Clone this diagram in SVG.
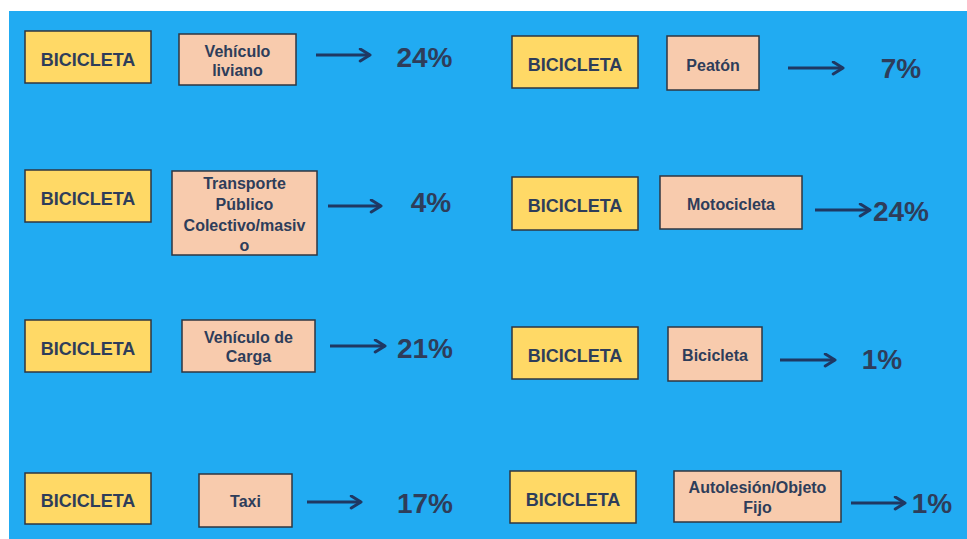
<svg xmlns="http://www.w3.org/2000/svg" width="967" height="539" viewBox="0 0 967 539">
<style>
.bg{fill:#21abf2}
.y{fill:#ffd966;stroke:#2f3640;stroke-width:1.5}
.p{fill:#f8cbad;stroke:#2f3640;stroke-width:1.5}
.t{font-family:"Liberation Sans",Arial,sans-serif;font-weight:bold;fill:#2e3d5a;text-anchor:middle}
.b{font-size:18px}
.s{font-size:16px}
.pc{font-size:28px}
.a{stroke:#1f3863;stroke-width:3;fill:none;marker-end:url(#ah)}
</style>
<defs>
<marker id="ah" viewBox="0 0 10 10" refX="8" refY="5" markerWidth="5" markerHeight="5" orient="auto" markerUnits="strokeWidth">
<path d="M1.5,1 L8,5 L1.5,9" fill="none" stroke="#1f3863" stroke-width="2" stroke-linecap="round" stroke-linejoin="round"/>
</marker>
</defs>
<rect x="0" y="0" width="967" height="539" fill="#ffffff"/>
<rect class="bg" x="9" y="11" width="958" height="528"/>

<g id="r1l-bici"><rect class="y" x="25" y="31" width="126" height="52"/><text class="t b" x="88" y="66">BICICLETA</text></g>
<g id="r1l-veh"><rect class="p" x="179" y="34" width="117" height="51"/><text class="t s" x="237.5" y="57">Vehículo</text><text class="t s" x="237.5" y="76">liviano</text></g>
<g id="r1l-pct"><text class="t pc" x="424.5" y="67">24%</text></g>

<g id="r1r-bici"><rect class="y" x="512" y="36" width="126" height="52"/><text class="t b" x="575" y="71">BICICLETA</text></g>
<g id="r1r-pea"><rect class="p" x="667" y="36" width="92" height="54"/><text class="t s" x="713" y="71">Peatón</text></g>
<g id="r1r-pct"><text class="t pc" x="901" y="78">7%</text></g>

<g id="r2l-bici"><rect class="y" x="25" y="170" width="126" height="52"/><text class="t b" x="88" y="205">BICICLETA</text></g>
<g id="r2l-tp"><rect class="p" x="172" y="171" width="145" height="84"/><text class="t s" x="244.5" y="189">Transporte</text><text class="t s" x="244.5" y="210">Público</text><text class="t s" x="244.5" y="231">Colectivo/masiv</text><text class="t s" x="244.5" y="251">o</text></g>
<g id="r2l-pct"><text class="t pc" x="431" y="212">4%</text></g>

<g id="r2r-bici"><rect class="y" x="512" y="177" width="126" height="53"/><text class="t b" x="575" y="212">BICICLETA</text></g>
<g id="r2r-moto"><rect class="p" x="660" y="176" width="142" height="53"/><text class="t s" x="731" y="210">Motocicleta</text></g>
<g id="r2r-pct"><text class="t pc" x="901" y="221">24%</text></g>

<g id="r3l-bici"><rect class="y" x="25" y="320" width="126" height="52"/><text class="t b" x="88" y="355">BICICLETA</text></g>
<g id="r3l-carga"><rect class="p" x="182" y="320" width="133" height="52"/><text class="t s" x="248.5" y="343">Vehículo de</text><text class="t s" x="248.5" y="362">Carga</text></g>
<g id="r3l-pct"><text class="t pc" x="425" y="358">21%</text></g>

<g id="r3r-bici"><rect class="y" x="512" y="327" width="126" height="52"/><text class="t b" x="575" y="362">BICICLETA</text></g>
<g id="r3r-bic"><rect class="p" x="668" y="327" width="94" height="54"/><text class="t s" x="715" y="361">Bicicleta</text></g>
<g id="r3r-pct"><text class="t pc" x="882" y="369">1%</text></g>

<g id="r4l-bici"><rect class="y" x="25" y="473" width="126" height="51"/><text class="t b" x="88" y="507">BICICLETA</text></g>
<g id="r4l-taxi"><rect class="p" x="199" y="474" width="93" height="53"/><text class="t s" x="245.5" y="507">Taxi</text></g>
<g id="r4l-pct"><text class="t pc" x="425" y="513">17%</text></g>

<g id="r4r-bici"><rect class="y" x="510" y="471" width="126" height="52"/><text class="t b" x="573" y="506">BICICLETA</text></g>
<g id="r4r-auto"><rect class="p" x="674" y="471" width="167" height="51"/><text class="t s" x="757.5" y="493">Autolesión/Objeto</text><text class="t s" x="757.5" y="513">Fijo</text></g>
<g id="r4r-pct"><text class="t pc" x="932" y="513">1%</text></g>

<g id="connectors">
<path class="a" d="M316,55 H370"/>
<path class="a" d="M788,68 H843"/>
<path class="a" d="M328,206 H381"/>
<path class="a" d="M815,210 H870"/>
<path class="a" d="M330,346 H385"/>
<path class="a" d="M780,360 H835"/>
<path class="a" d="M307,502 H361"/>
<path class="a" d="M851,503 H905"/>
</g>
</svg>
